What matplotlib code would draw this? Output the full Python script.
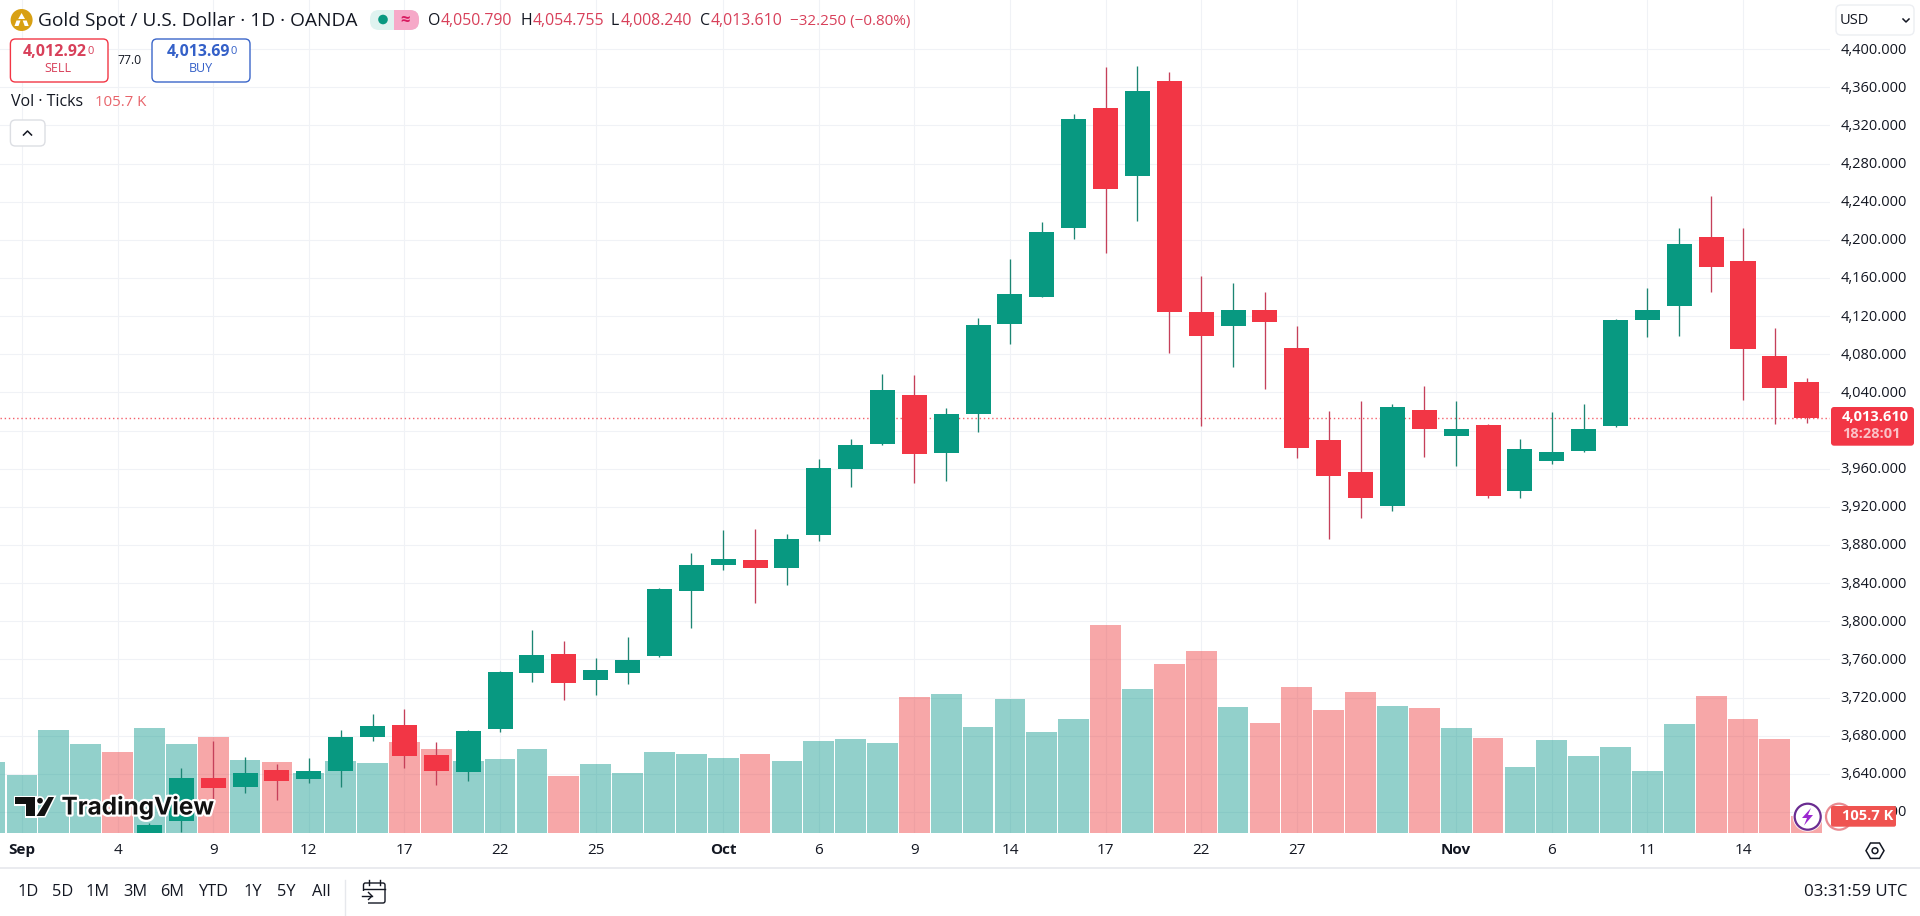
import matplotlib
matplotlib.use("Agg")
import matplotlib.pyplot as plt
import matplotlib.patheffects as pe
from matplotlib.patches import FancyBboxPatch, Circle, Polygon, Rectangle
from matplotlib.transforms import ScaledTranslation

# ---- data ----
candle_days = list(range(4, 57))
opens = [3560, 3590.8, 3635.6, 3626.5, 3644.0, 3634.6, 3643, 3679, 3691.2, 3659.8, 3642, 3687.4, 3746.1,
         3765.7, 3738.8, 3746.1, 3763.9, 3832.1, 3859.4, 3864.3, 3856.2, 3890.8, 3960, 3986.3, 4037.3,
         3976.8, 4017.7, 4111.8, 4140.4, 4212.8, 4338.3, 4267, 4366.6, 4124.4, 4110, 4126.5, 4086.6,
         3990.1, 3956.6, 3921.2, 4021.6, 3994.7, 4005.9, 3937, 3968.4, 3978.9, 4005.1, 4116.3, 4131,
         4203, 4177.9, 4078.2, 4050.79]
closes = [3586.3, 3635.6, 3625.4, 3640.9, 3632.8, 3642.7, 3678.7, 3690.2, 3659, 3643, 3684.9, 3746.8, 3764.6,
          3735.6, 3748.9, 3759.4, 3833.9, 3859, 3865.3, 3855.9, 3886.3, 3960.8, 3984.9, 4042.6, 3975.8,
          4017.4, 4110.7, 4143.3, 4208.3, 4326.8, 4253.7, 4356.2, 4124.7, 4099.5, 4126.5, 4114.2, 3981.2,
          3952.7, 3929.6, 4024.8, 4002, 4001.7, 3931.7, 3980.7, 3977.6, 4001.7, 4116, 4126.5, 4195.7,
          4171.9, 4085.9, 4045, 4013.61]
highs = [3588, 3645.8, 3674.4, 3657.4, 3650, 3656.3, 3686, 3702.8, 3708, 3673.1, 3686, 3748.2, 3790.9,
         3779.3, 3761.5, 3783.5, 3834.9, 3871.6, 3895.8, 3896.8, 3891.6, 3970.2, 3991.2, 4059.4, 4058.3,
         4023.7, 4118.1, 4180, 4218.8, 4332, 4381.3, 4382.4, 4376.1, 4162.1, 4155.1, 4145.4, 4109.7,
         4020.9, 4031, 4027.9, 4046.8, 4031, 4006.5, 3991.2, 4019.5, 4027.9, 4117, 4149.5, 4212.5,
         4246, 4212.5, 4107.6, 4054.755]
lows = [3548, 3579.3, 3607.3, 3620.2, 3612.6, 3630.7, 3626.5, 3674.8, 3646.5, 3628.3, 3632.5, 3683.9, 3736.7,
        3717.8, 3723, 3734.6, 3762.6, 3793.3, 3853.8, 3819.5, 3838.1, 3884.5, 3941.2, 3984.9, 3945.4,
        3947.5, 3998.8, 4091.1, 4140.1, 4200.9, 4186.6, 4219.8, 4081.7, 4005.1, 4067, 4043.6, 3971.6,
        3886.6, 3908.7, 3916, 3972.6, 3963.2, 3929.6, 3929.6, 3965.3, 3978, 4004, 4098.5, 4099.5,
        4145.7, 4032.4, 4007.2, 4008.24]

volume_days = list(range(-1, 57))
volumes_k = [448, 365, 650, 561, 511, 663, 561, 606, 460, 448, 376, 452, 441, 574, 530, 452, 467, 530, 359,
             435, 378, 511, 498, 473, 498, 454, 580, 593, 568, 859, 878, 669, 846, 637, 720, 1315, 910,
             1068, 1150, 796, 694, 922, 777, 891, 802, 789, 663, 599, 416, 587, 486, 542, 391, 688, 865,
             720, 593, 105.7]
volume_down_days = [3, 6, 8, 12, 13, 17, 23, 28, 34, 36, 37, 39, 40, 41, 42, 44, 46, 53, 54, 55, 56]

x_tick_days = [0, 3, 6, 9, 12, 15, 18, 22, 25, 28, 31, 34, 37, 40, 45, 48, 51, 54]
x_tick_labels = ["Sep", "4", "9", "12", "17", "22", "25", "Oct", "6", "9", "14", "17", "22", "27",
                 "Nov", "6", "11", "14"]
price_ticks = list(range(3600, 4401, 40))
range_buttons = ["1D", "5D", "1M", "3M", "6M", "YTD", "1Y", "5Y", "All"]
range_button_x = [27.7, 62.5, 98, 135, 172, 213, 252.7, 286.6, 321.4]

# ---- styles ----
FONT = "Open Sans"
plt.rcParams["font.family"] = [FONT, "DejaVu Sans"]
UP, DOWN = "#089981", "#f23645"
VOL_UP, VOL_DOWN = "#079689", "#ed3739"
INK = "#131722"
GRID = "#f0f2f6"
W, H = 1920, 916
PANE_R, PANE_B = 1830, 832.7

fig = plt.figure(figsize=(W / 100, H / 100), dpi=100, facecolor="white")
pos = [0, (H - PANE_B) / H, PANE_R / W, PANE_B / H]
XLIM = (-0.69, 56.73)
YLIM = (3578.2, 4451.56)

# base layer: grid and axis labels
ax = fig.add_axes(pos, zorder=1)
ax.set_xlim(XLIM)
ax.set_ylim(YLIM)
for s in ax.spines.values():
    s.set_visible(False)
ax.yaxis.tick_right()
ax.set_yticks(price_ticks)
ax.set_yticklabels([f"{v:,.3f}" for v in price_ticks], fontsize=10.5, color=INK)
ax.set_xticks(x_tick_days)
ax.set_xticklabels(x_tick_labels, fontsize=11, color=INK)
for lab in ax.get_xticklabels():
    if lab.get_text() in ("Sep", "Oct", "Nov"):
        lab.set_fontweight("bold")
ax.tick_params(axis="both", length=0)
ax.tick_params(axis="y", pad=7.5)
ax.tick_params(axis="x", pad=7.5)
for lab in ax.get_yticklabels():
    lab.set_transform(lab.get_transform() + ScaledTranslation(0, 1 / 100, fig.dpi_scale_trans))
ax.grid(True, color=GRID, lw=0.8)
ax.set_axisbelow(True)

# volume layer
ax_v = fig.add_axes(pos, zorder=2, facecolor="none")
ax_v.set_xlim(XLIM)
ax_v.set_ylim(0, 5271)
ax_v.axis("off")
vol_colors = [VOL_DOWN if d in volume_down_days else VOL_UP for d in volume_days]
ax_v.bar(volume_days, volumes_k, width=0.965, color=vol_colors, alpha=0.44, linewidth=0)

# candle layer
ax_c = fig.add_axes(pos, zorder=3, facecolor="none")
ax_c.set_xlim(XLIM)
ax_c.set_ylim(YLIM)
ax_c.axis("off")
ax_c.axhline(closes[-1], color=DOWN, lw=1.0, ls=(0, (1, 2)), alpha=0.8, zorder=1)
col = [UP if c >= o else DOWN for o, c in zip(opens, closes)]
wick = ["#1c8573" if c >= o else "#c5405a" for o, c in zip(opens, closes)]
ax_c.vlines(candle_days, lows, highs, colors=wick, lw=0.95, zorder=2)
ax_c.bar(candle_days, [c - o for o, c in zip(opens, closes)], bottom=opens, width=0.785,
         color=col, linewidth=0, zorder=3)

# chrome overlay in pixel coordinates
ov = fig.add_axes([0, 0, 1, 1], zorder=4, facecolor="none")
ov.set_xlim(0, W)
ov.set_ylim(H, 0)
ov.axis("off")


def t(x, y, s, size=10.5, color=INK, ha="left", va="center", weight="normal", **kw):
    return ov.text(x, y, s, fontsize=size, color=color, ha=ha, va=va, fontweight=weight, **kw)


def box(x0, y0, x1, y1, ec, fc="white", r=5, lw=1.0, z=2):
    ov.add_patch(FancyBboxPatch((x0 + r, y0 + r), x1 - x0 - 2 * r, y1 - y0 - 2 * r,
                                boxstyle=f"round,pad={r},rounding_size={r}", ec=ec, fc=fc, lw=lw, zorder=z))


RED_T = "#d8405a"
# title row
ov.add_patch(Circle((21.6, 20), 11, fc="#d8a013", ec="none"))
ov.add_patch(Polygon([(21.6, 13), (25, 19), (18.2, 19)], fc="white", ec="none", zorder=3))
ov.add_patch(Polygon([(16.5, 20.5), (20.5, 20.5), (18.5, 26), (14.5, 26)], fc="white", ec="none", zorder=3))
ov.add_patch(Polygon([(22.7, 20.5), (26.7, 20.5), (28.7, 26), (24.7, 26)], fc="white", ec="none", zorder=3))
t(38, 21, "Gold Spot / U.S. Dollar · 1D · OANDA", size=13.8)
box(370, 10, 419, 30, "none", fc="#dff3f0", r=9, lw=0)
ov.add_patch(Rectangle((394, 10), 16, 20, fc="#f6a9c8", ec="none", zorder=3))
box(396, 10, 419, 30, "none", fc="#f6a9c8", r=9, lw=0, z=3)
ov.add_patch(Circle((383, 19.5), 4.8, fc=UP, ec="none", zorder=4))
t(405, 20, "≈", size=12, color="#d81b60", ha="center", weight="bold", zorder=5)
for x, s, c in [(428, "O", INK), (441, "4,050.790", RED_T), (520, "H", INK), (533, "4,054.755", RED_T),
                (611, "L", INK), (621, "4,008.240", RED_T), (700, "C", INK), (711, "4,013.610", RED_T),
                (790, "−32.250 (−0.80%)", RED_T)]:
    t(x, 21, s, size=11.4 if x != 790 else 11.0, color=c)

# sell / buy
box(10.4, 39, 108, 82, DOWN)
box(152, 39, 250, 82, "#3b66c9")
t(23, 52, "4,012.92", size=11.5, color=RED_T, weight="bold")
t(87.5, 51, "0", size=8, color=RED_T)
t(58, 69, "SELL", size=9, color=RED_T, ha="center")
t(166.5, 52, "4,013.69", size=11.4, color="#3460c8", weight="bold")
t(230.5, 51, "0", size=8, color="#3460c8")
t(201, 69, "BUY", size=9, color="#3460c8", ha="center")
t(130, 60, "77.0", size=8.8, ha="center")
t(11, 102, "Vol · Ticks", size=11.5)
t(95, 102, "105.7 K", size=10.8, color="#e8636a")
box(10.4, 120, 45, 146, "#dcdee3")
ov.plot([23.5, 27.5, 31.5], [135, 131, 135], color=INK, lw=1.1, zorder=3)

# currency selector
box(1836, 5, 1914, 35, "#eceef2")
t(1840, 21, "USD", size=10.5)
ov.plot([1903, 1906, 1909], [19, 22, 19], color=INK, lw=1.1, zorder=3)

# last price tag
box(1831, 407, 1914, 445.7, "none", fc=DOWN, r=3, lw=0, z=3)
t(1842, 417, "4,013.610", size=10.5, color="white", weight="bold", zorder=4)
t(1842, 434.5, "18:28:01", size=10.5, color="#fbc1c7", weight="bold", zorder=4)

# volume tag and badges
ov.add_patch(Circle((1839, 816.7), 13, fc="white", ec="#e98a90", lw=1.6, zorder=2))
box(1831, 806, 1896, 826.7, "none", fc="#ef5350", r=2, lw=0, z=3)
t(1842, 816.5, "105.7 K", size=10.5, color="white", weight="bold", zorder=4)
ov.add_patch(Circle((1807.7, 816.7), 15, fc="white", ec="none", alpha=0.85, zorder=2))
ov.add_patch(Circle((1807.7, 816.7), 13, fc="white", ec="#6a2c91", lw=1.6, zorder=3))
ov.add_patch(Polygon([(1811, 808), (1802, 818), (1807, 818), (1804, 825.5), (1813, 815), (1808, 815)],
                     fc="#9c27d0", ec="none", zorder=4))

# settings hexagon
ov.add_patch(Polygon([(1866, 850.7), (1870.5, 843), (1879.5, 843), (1884, 850.7), (1879.5, 858.4), (1870.5, 858.4)],
                     fc="none", ec=INK, lw=1.1))
ov.add_patch(Circle((1875, 850.7), 2.9, fc="none", ec=INK, lw=1.1))

# bottom toolbar
ov.plot([0, W], [868, 868], color="#e6e8ec", lw=1.2)
for x, s in zip(range_button_x, range_buttons):
    t(x, 892.5, s, size=11.8, ha="center")
ov.plot([345, 345], [880, 915], color="#e6e8ec", lw=1)
t(1907, 892, "03:31:59 UTC", size=12.2, ha="right")
box(363.5, 883, 385, 903, INK, fc="none", r=2, lw=1.0)
ov.plot([363.5, 385], [888.5, 888.5], color=INK, lw=1.0, zorder=3)
ov.plot([369, 369], [880, 885], color=INK, lw=1.0, zorder=3)
ov.plot([380, 380], [880, 885], color=INK, lw=1.0, zorder=3)
ov.add_patch(Rectangle((360, 891), 8, 13, fc="white", ec="none", zorder=3))
ov.plot([362, 372], [896, 896], color=INK, lw=1.0, zorder=4)
ov.plot([368.5, 372, 368.5], [892.5, 896, 899.5], color=INK, lw=1.0, zorder=4)

# TradingView watermark
halo = [pe.withStroke(linewidth=3.2, foreground="white")]
for pts in ([(15, 797), (35, 797), (35, 816), (26, 816), (26, 804), (15, 804)],
            [(48.5, 797), (54, 797), (44.5, 816), (36.5, 816)]):
    ov.add_patch(Polygon(pts, fc="#111111", ec="white", lw=2.2, zorder=5))
    ov.add_patch(Polygon(pts, fc="#111111", ec="none", zorder=6))
ov.add_patch(Circle((40, 800.7), 3.7, fc="#111111", ec="white", lw=1.2, zorder=6))
t(61.5, 807, "TradingView", size=17.5, color="#111111", weight="bold", zorder=6,
  family=["Inter", "DejaVu Sans"], path_effects=halo)

fig.savefig("out.png", dpi=100)
